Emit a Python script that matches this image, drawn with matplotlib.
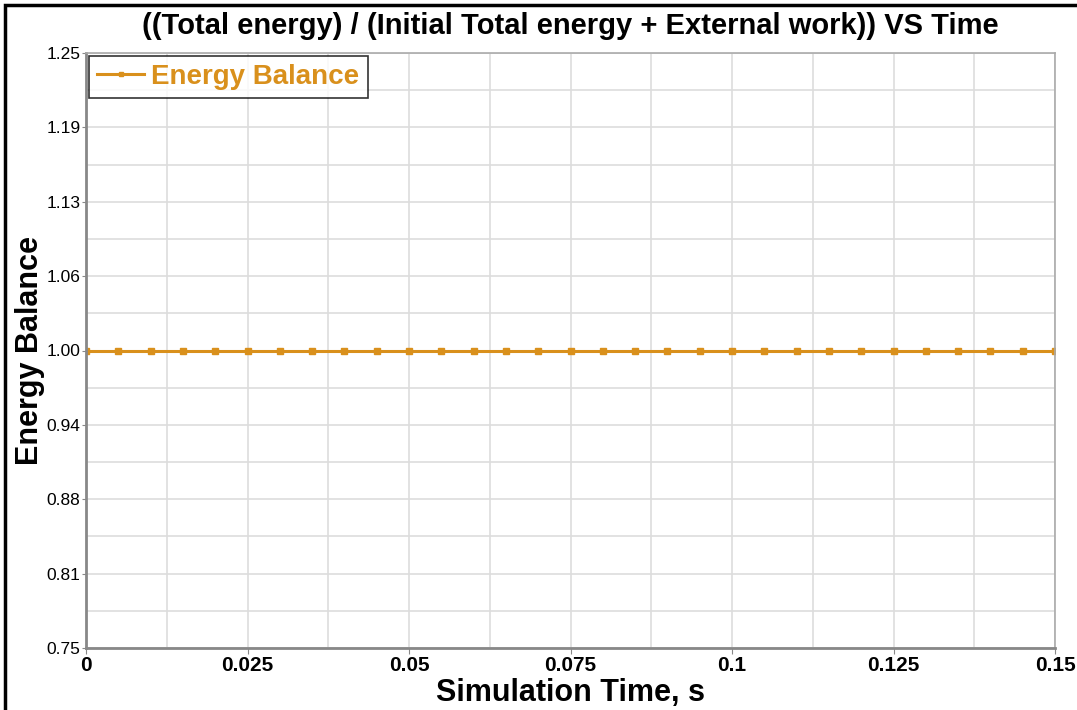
import matplotlib.pyplot as plt
import numpy as np
from matplotlib.patches import Rectangle

plt.rcParams['font.family'] = ['Liberation Sans', 'DejaVu Sans']

# data
time = [0.0, 0.005, 0.01, 0.015, 0.02, 0.025, 0.03, 0.035, 0.04, 0.045, 0.05,
        0.055, 0.06, 0.065, 0.07, 0.075, 0.08, 0.085, 0.09, 0.095, 0.1,
        0.105, 0.11, 0.115, 0.12, 0.125, 0.13, 0.135, 0.14, 0.145, 0.15]
energy_balance = [1.0] * len(time)

x_ticks = [0, 0.025, 0.05, 0.075, 0.1, 0.125, 0.15]
x_tick_labels = ["0", "0.025", "0.05", "0.075", "0.1", "0.125", "0.15"]
y_ticks = [0.75, 0.8125, 0.875, 0.9375, 1.0, 1.0625, 1.125, 1.1875, 1.25]
y_tick_labels = ["0.75", "0.81", "0.88", "0.94", "1.00", "1.06", "1.13", "1.19", "1.25"]

orange = "#D9901C"

fig = plt.figure(figsize=(10.77, 7.10), dpi=100)
ax = fig.add_axes([86 / 1077, 1 - 648 / 710, (1055 - 86) / 1077, (648 - 53) / 710])

# outer black frame (only left/top visible in the reference)
fig.patches.append(Rectangle((5 / 1077, -0.1), 1.2, 1 - 5 / 710 + 0.1,
                             transform=fig.transFigure, fill=False,
                             edgecolor="black", linewidth=2.5))

ax.plot(time, energy_balance, color=orange, linewidth=2.2, marker="s",
        markersize=4.5, label="Energy Balance")

ax.set_xlim(0, 0.15)
ax.set_ylim(0.75, 1.25)
ax.set_xticks(x_ticks)
ax.set_xticklabels(x_tick_labels, fontsize=15, fontweight="bold")
ax.set_yticks(y_ticks)
ax.set_yticklabels(y_tick_labels, fontsize=12.5)
ax.set_xticks(np.arange(0.0125, 0.15, 0.025), minor=True)
ax.set_yticks(np.arange(0.78125, 1.25, 0.0625), minor=True)
ax.tick_params(which="minor", length=0)
ax.tick_params(which="major", length=4, color="#888888", pad=2)
ax.tick_params(axis="y", which="major", length=3, pad=1)

ax.grid(True, which="both", color="#dddddd", linewidth=1.2)
ax.set_axisbelow(True)
for side in ["left", "bottom"]:
    ax.spines[side].set_color("#888888")
    ax.spines[side].set_linewidth(2)
for side in ["top", "right"]:
    ax.spines[side].set_color("#aaaaaa")
    ax.spines[side].set_linewidth(1.2)

ax.set_xlabel("Simulation Time, s", fontsize=22, fontweight="bold", labelpad=2)
ax.set_ylabel("Energy Balance", fontsize=22, fontweight="bold")
ax.yaxis.set_label_coords(-0.0425, 0.5)
ax.set_title("((Total energy) / (Initial Total energy + External work)) VS Time",
             fontsize=21, fontweight="bold", pad=14)

leg = ax.legend(loc="upper left", fontsize=20, frameon=True, fancybox=False,
                borderaxespad=0.1, handlelength=1.7, handletextpad=0.25,
                borderpad=0.3, markerscale=0.7)
leg.get_frame().set_edgecolor("black")
leg.get_frame().set_linewidth(1.2)
for txt in leg.get_texts():
    txt.set_color(orange)
    txt.set_fontweight("bold")

fig.savefig("out.png", dpi=100)
